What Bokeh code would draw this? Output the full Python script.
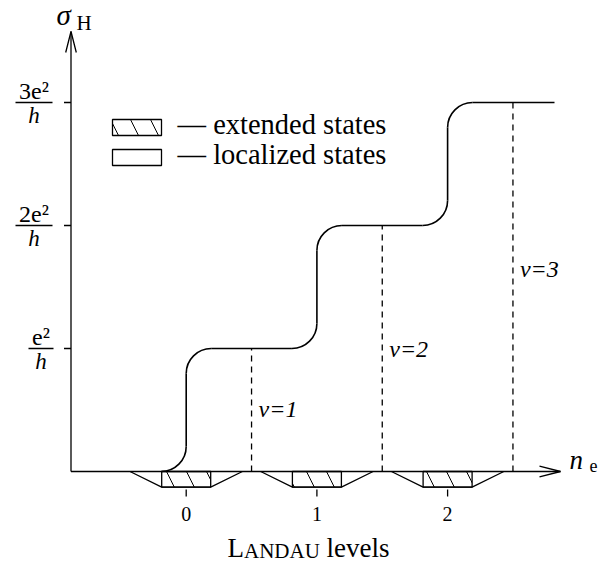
from bokeh.plotting import figure
from bokeh.models import Range1d
from bokeh.core.properties import value
from bokeh.embed import file_html
from bokeh.resources import INLINE

# ---- data ----
levels = [0, 1, 2]
level_labels = ["0", "1", "2"]
plateaus = [1, 2, 3]
nu_positions = [0.5, 1.5, 2.5]
nu_labels = ["ν=1", "ν=2", "ν=3"]
nu_label_y = [0.508, 0.992, 1.65]
ytick_values = [1, 2, 3]
ytick_numerators = ["e²", "2e²", "3e²"]
ytick_denominators = ["h", "h", "h"]
legend_labels = ["— extended states", "— localized states"]

# ---- geometry (pixels of the picture -> data) ----
W, H = 604, 562
OFF = 0
X0, SX = 185.7, 130.7
Y0, SY = 471.0, 123.0


def fx(X):
    return (X - X0) / SX


def fy(Y):
    return (Y0 - Y) / SY


def dx(px):
    return px / SX


def dy(px):
    return px / SY


SERIF = value("Liberation Serif")
BLACK = "#000000"

p = figure(width=W, height=H,
           x_range=Range1d(fx(OFF), fx(OFF + W)),
           y_range=Range1d(fy(OFF + H), fy(OFF)),
           x_axis_type=None, y_axis_type=None,
           toolbar_location=None, output_backend="svg", min_border=0)
p.outline_line_color = None
p.background_fill_color = "white"
p.border_fill_color = "white"

AXW = 1.3
ax_x = fx(70.5)
y_tip = fy(31)
x_tip = fx(560)

# axes
p.segment(x0=[ax_x, ax_x], y0=[0, 0], x1=[ax_x, x_tip], y1=[y_tip, 0],
          line_color=BLACK, line_width=AXW)
# open arrow heads
AL, AH = 21, 5.3
p.multi_line(xs=[[ax_x - dx(AH), ax_x, ax_x + dx(AH)],
                 [x_tip - dx(AL), x_tip, x_tip - dx(AL)]],
             ys=[[y_tip - dy(AL), y_tip, y_tip - dy(AL)],
                 [dy(AH), 0, -dy(AH)]],
             line_color=BLACK, line_width=AXW)

# y ticks
p.segment(x0=[ax_x - dx(7)] * 3, x1=[ax_x] * 3, y0=ytick_values, y1=ytick_values,
          line_color=BLACK, line_width=AXW)

# fraction tick labels
frac_cx = [40.5, 33.5, 33.5]
frac_hw = [12.5, 18.5, 18.5]
p.segment(x0=[fx(c - w) for c, w in zip(frac_cx, frac_hw)],
          x1=[fx(c + w) for c, w in zip(frac_cx, frac_hw)],
          y0=ytick_values, y1=ytick_values, line_color=BLACK, line_width=1.6)
p.text(x=[fx(c) for c in frac_cx], y=[v + dy(12) for v in ytick_values],
       text=ytick_numerators, text_font=SERIF, text_font_size="24px",
       text_align="center", text_baseline="middle", text_color=BLACK)
p.text(x=[fx(c) for c in frac_cx], y=[v - dy(12.5) for v in ytick_values],
       text=ytick_denominators, text_font=SERIF, text_font_size="23px",
       text_font_style="italic",
       text_align="center", text_baseline="middle", text_color=BLACK)

# axis titles
p.text(x=[fx(56)], y=[fy(14.5)], text=["σ"], text_font=SERIF, text_font_size="29px",
       text_font_style="italic", text_baseline="middle", text_color=BLACK)
p.text(x=[fx(76)], y=[fy(22.5)], text=["H"], text_font=SERIF, text_font_size="21px",
       text_baseline="middle", text_color=BLACK)
p.text(x=[fx(569)], y=[fy(459)], text=["n"], text_font=SERIF, text_font_size="27px",
       text_font_style="italic", text_baseline="middle", text_color=BLACK)
p.text(x=[fx(589)], y=[fy(465)], text=["e"], text_font=SERIF, text_font_size="18px",
       text_baseline="middle", text_color=BLACK)

# Hall conductance staircase
rx, ry, k = dx(25), dy(25), 0.5523
LW = 1.6
prev = 0
hx0, hx1, hy = [], [], []
vx, vy0, vy1 = [], [], []
b = dict(x0=[], y0=[], x1=[], y1=[], cx0=[], cy0=[], cx1=[], cy1=[])
for n, pl in zip(levels, plateaus):
    # lower corner
    b["x0"].append(n - rx); b["y0"].append(prev)
    b["cx0"].append(n - rx + k * rx); b["cy0"].append(prev)
    b["cx1"].append(n); b["cy1"].append(prev + ry - k * ry)
    b["x1"].append(n); b["y1"].append(prev + ry)
    # vertical
    vx.append(n); vy0.append(prev + ry); vy1.append(pl - ry)
    # upper corner
    b["x0"].append(n); b["y0"].append(pl - ry)
    b["cx0"].append(n); b["cy0"].append(pl - ry + k * ry)
    b["cx1"].append(n + rx - k * rx); b["cy1"].append(pl)
    b["x1"].append(n + rx); b["y1"].append(pl)
    prev = pl
for i, (n, pl) in enumerate(zip(levels, plateaus)):
    end = levels[i + 1] - rx if i + 1 < len(levels) else fx(554)
    hx0.append(n + rx); hx1.append(end); hy.append(pl)

p.bezier(**b, line_color=BLACK, line_width=LW)
p.segment(x0=vx, x1=vx, y0=vy0, y1=vy1, line_color=BLACK, line_width=LW)
p.segment(x0=hx0, x1=hx1, y0=hy, y1=hy, line_color=BLACK, line_width=LW)

# dashed lines at the plateau centres
p.segment(x0=nu_positions, x1=nu_positions, y0=[0] * 3, y1=plateaus,
          line_color=BLACK, line_width=1.3, line_dash="6 5")
p.text(x=[v + dx(7) for v in nu_positions], y=nu_label_y, text=nu_labels,
       text_font=SERIF, text_font_size="24px", text_font_style="italic",
       text_baseline="middle", text_color=BLACK)

# Landau levels: trapezoids + hatched boxes
bw, bh, tw = dx(24.5), dy(15.6), 0.43
p.multi_line(xs=[[n - tw, n - bw, n + bw, n + tw] for n in levels],
             ys=[[0, -bh, -bh, 0] for n in levels],
             line_color=BLACK, line_width=AXW)
p.quad(left=[n - bw for n in levels], right=[n + bw for n in levels],
       top=[0] * 3, bottom=[-bh] * 3, fill_color=None,
       line_color=BLACK, line_width=AXW,
       hatch_pattern="\\", hatch_color=BLACK, hatch_weight=1, hatch_scale=40)
p.segment(x0=levels, x1=levels, y0=[fy(489)] * 3, y1=[fy(496)] * 3,
          line_color=BLACK, line_width=AXW)
p.text(x=levels, y=[fy(513.5)] * 3, text=level_labels, text_font=SERIF,
       text_font_size="20px", text_align="center", text_baseline="middle",
       text_color=BLACK)

# "LANDAU levels"
p.text(x=[fx(227)], y=[fy(547.5)], text=["L"], text_font=SERIF, text_font_size="27px",
       text_baseline="middle", text_color=BLACK)
p.text(x=[fx(243.5)], y=[fy(550.5)], text=["ANDAU"], text_font=SERIF, text_font_size="21px",
       text_baseline="middle", text_color=BLACK)
p.text(x=[fx(326)], y=[fy(547.5)], text=["levels"], text_font=SERIF, text_font_size="27px",
       text_baseline="middle", text_color=BLACK)

# legend
p.quad(left=[fx(112)], right=[fx(161)], top=[fy(119)], bottom=[fy(135)],
       fill_color=None, line_color=BLACK, line_width=AXW,
       hatch_pattern="\\", hatch_color=BLACK, hatch_weight=1, hatch_scale=40)
p.quad(left=[fx(112)], right=[fx(161)], top=[fy(149)], bottom=[fy(165)],
       fill_color=None, line_color=BLACK, line_width=AXW)
p.text(x=[fx(177)] * 2, y=[fy(124), fy(154)], text=legend_labels, text_font=SERIF,
       text_font_size="28.5px", text_baseline="middle", text_color=BLACK)

open("out.html", "w").write(file_html(p, INLINE))
